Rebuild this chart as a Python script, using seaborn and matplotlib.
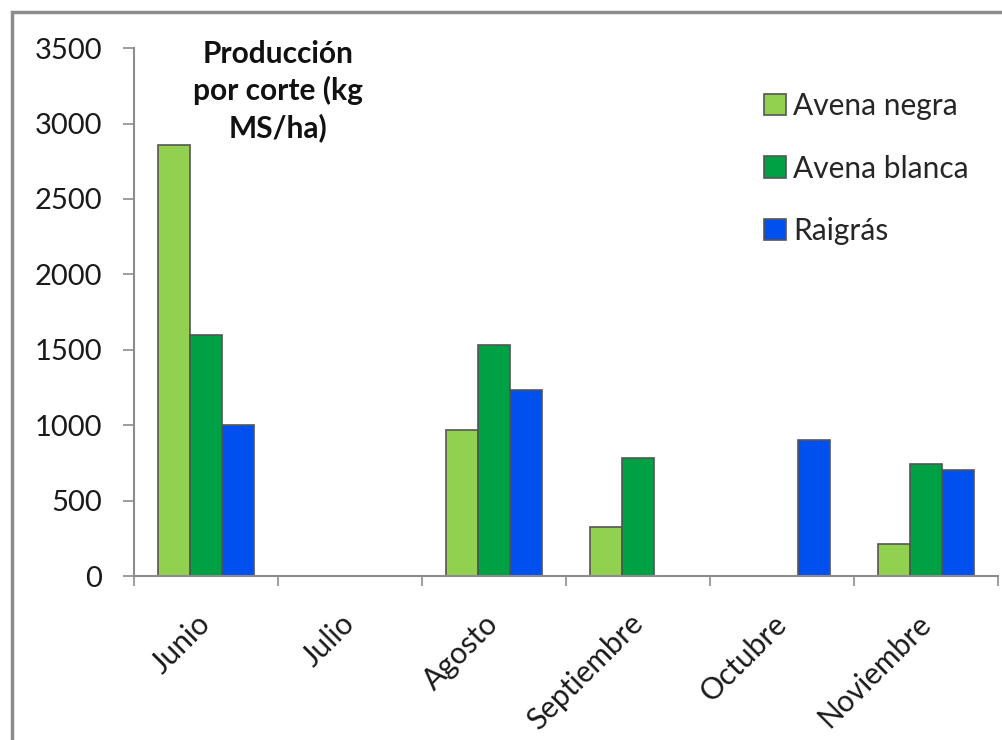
import pandas as pd
import matplotlib.pyplot as plt
import seaborn as sns
import numpy as np
from matplotlib.patches import Rectangle

# data (kg MS/ha per cut)
meses = ["Junio", "Julio", "Agosto", "Septiembre", "Octubre", "Noviembre"]
avena_negra = [2860, np.nan, 970, 325, np.nan, 215]
avena_blanca = [1600, np.nan, 1530, 780, np.nan, 740]
raigras = [1000, np.nan, 1230, np.nan, 900, 705]
series = ["Avena negra", "Avena blanca", "Raigrás"]
colores = ["#92D050", "#00A045", "#0050EF"]
yticks = [0, 500, 1000, 1500, 2000, 2500, 3000, 3500]

df = pd.DataFrame(
    {"mes": meses * 3,
     "cultivo": [s for s in series for _ in meses],
     "valor": avena_negra + avena_blanca + raigras}
)

sns.set_style("white")
plt.rcParams["font.family"] = ["Lato", "DejaVu Sans"]

fig = plt.figure(figsize=(10.03, 7.40), dpi=100)
ax = fig.add_axes([0.1336, 0.2216, 0.8614, 0.7134])

sns.barplot(
    data=df, x="mes", y="valor", hue="cultivo", order=meses, hue_order=series,
    palette=colores, saturation=1, width=0.67, gap=0, edgecolor="#555555",
    linewidth=1.2, errorbar=None, ax=ax, legend=True,
)

ax.set_xlim(-0.5, len(meses) - 0.5)
ax.set_ylim(0, 3500)
ax.set_yticks(yticks)
ax.set_xlabel("")
ax.set_ylabel("")

gray = "#8c8c8c"
for s in ["top", "right"]:
    ax.spines[s].set_visible(False)
for s in ["left", "bottom"]:
    ax.spines[s].set_color(gray)
    ax.spines[s].set_linewidth(1.5)

ax.tick_params(axis="y", direction="out", length=8, width=1.2, color=gray,
               labelsize=21, labelcolor="#1a1a1a", pad=15, left=True)
ax.set_xticks(np.arange(-0.5, len(meses)), minor=True)
ax.tick_params(axis="x", which="minor", direction="out", length=7, width=1.2,
               color=gray, bottom=True)
ax.tick_params(axis="x", which="major", length=0, pad=31, labelsize=21.5,
               labelcolor="#1a1a1a")
plt.setp(ax.get_xticklabels(), rotation=45, ha="right", va="center",
         rotation_mode="anchor")

ax.text(0.5, 3555, "Producción\npor corte (kg\nMS/ha)", ha="center", va="top",
        fontsize=21.5, fontweight="bold", linespacing=1.33, color="#111111")

leg = ax.legend(loc="upper left", bbox_to_anchor=(0.750, 0.8915),
                bbox_transform=fig.transFigure, frameon=False, fontsize=21.5,
                handlelength=0.72, handleheight=0.72, handletextpad=0.25,
                labelspacing=1.15, borderaxespad=0)
for h in leg.legend_handles:
    h.set_edgecolor("#555555")
    h.set_linewidth(1.2)

# outer chart border, cut off at the right and bottom like the reference
fig.patches.append(Rectangle((0.0115, -0.1), 1.2, 1.0835, transform=fig.transFigure,
                             fill=False, edgecolor=gray, linewidth=2.5))

fig.savefig("out.png", dpi=100)
